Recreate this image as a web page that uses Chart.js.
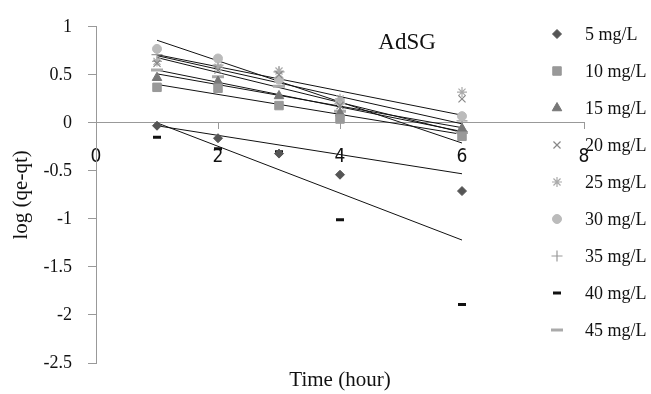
<!DOCTYPE html>
<html>
<head>
<meta charset="utf-8">
<script src="https://cdn.jsdelivr.net/npm/chart.js@4/dist/chart.umd.min.js"></script>
<style>
  html, body { margin: 0; padding: 0; background: #fff; }
  canvas { display: block; }
</style>
</head>
<body>
<canvas id="myChart" width="651" height="394"></canvas>
<script>
// time points (hour)
const times = [1, 2, 3, 4, 6];
const seriesNames = ['5 mg/L', '10 mg/L', '15 mg/L', '20 mg/L', '25 mg/L', '30 mg/L', '35 mg/L', '40 mg/L', '45 mg/L'];

// log (qe-qt)
const c5  = [-0.03, -0.16, -0.32, -0.54, -0.71];
const c10 = [0.37, 0.36, 0.18, 0.04, -0.14];
const c15 = [0.47, 0.43, 0.28, 0.10, -0.06];
const c20 = [0.62, 0.55, 0.50, 0.18, 0.25];
const c25 = [0.64, 0.58, 0.54, 0.25, 0.32];
const c30 = [0.77, 0.67, 0.45, 0.22, 0.07];
const c35 = [0.71, 0.60, 0.53, 0.20, 0.02];
const c40 = [-0.15, -0.27, -0.30, -1.01, -1.89];
const c45 = [0.55, 0.48, 0.38, 0.12, -0.10];
const allValues = [c5, c10, c15, c20, c25, c30, c35, c40, c45];

// linear trend lines, value at t=1 and t=6
const trendTimes = [1, 6];
const trendStart = [-0.03, 0.40, 0.51, 0.70, 0.71, 0.86, 0.68, 0.00, 0.55];
const trendEnd   = [-0.53, -0.12, -0.05, -0.01, 0.08, -0.21, -0.10, -1.22, -0.09];

const yTicks = [-2.5, 1, 0.5];   // min, max, step
const xTicks = [0, 8, 2];

// marker looks
const styles = [
    { pointStyle: 'rectRot', radius: 4.5, color: '#555', width: 1 },
    { pointStyle: 'rect', radius: 6, color: '#999', width: 1 },
    { pointStyle: 'triangle', radius: 5.5, color: '#777', width: 1 },
    { pointStyle: 'crossRot', radius: 5, color: '#888', width: 1.2 },
    { pointStyle: 'star', radius: 5, color: '#aaa', width: 1.2 },
    { pointStyle: 'circle', radius: 4.5, color: '#bbb', width: 1 },
    { pointStyle: 'cross', radius: 5.5, color: '#999', width: 1.2 },
    { pointStyle: 'line', radius: 4, color: '#111', width: 3 },
    { pointStyle: 'line', radius: 6, color: '#aaa', width: 3 },
];

const serif = "'Liberation Serif', 'Times New Roman', serif";

const datasets = [];
allValues.forEach((vals, i) => {
    const s = styles[i];
    datasets.push({
        type: 'scatter',
        label: seriesNames[i],
        data: times.map((t, j) => ({ x: t, y: vals[j] })),
        pointStyle: s.pointStyle,
        pointRadius: s.radius,
        pointBackgroundColor: s.color,
        pointBorderColor: s.color,
        pointBorderWidth: s.width,
        showLine: false,
    });
});
trendStart.forEach((v, i) => {
    datasets.push({
        type: 'line',
        label: 'trend ' + seriesNames[i],
        data: [{ x: trendTimes[0], y: v }, { x: trendTimes[1], y: trendEnd[i] }],
        borderColor: '#111',
        borderWidth: 1,
        pointRadius: 0,
        fill: false,
    });
});

// legend on the right, drawn over the plot like the original
const sideLegend = {
    id: 'sideLegend',
    afterDraw(chart) {
        const ctx = chart.ctx;
        ctx.save();
        ctx.font = '18px ' + serif;
        ctx.textBaseline = 'middle';
        ctx.textAlign = 'left';
        seriesNames.forEach((name, i) => {
            const s = styles[i];
            const y = 34 + i * 37;
            ctx.fillStyle = s.color;
            ctx.strokeStyle = s.color;
            ctx.lineWidth = s.width;
            Chart.helpers.drawPoint(ctx, { pointStyle: s.pointStyle, radius: s.radius, borderWidth: s.width, rotation: 0 }, 557, y);
            ctx.fillStyle = '#111';
            ctx.fillText(name, 585, y + 1);
        });
        ctx.restore();
    }
};

const chartLabel = {
    id: 'chartLabel',
    afterDraw(chart) {
        const ctx = chart.ctx;
        ctx.save();
        ctx.font = '23px ' + serif;
        ctx.fillStyle = '#111';
        ctx.textAlign = 'center';
        ctx.textBaseline = 'middle';
        ctx.fillText('AdSG', chart.scales.x.getPixelForValue(5.1), chart.scales.y.getPixelForValue(0.83));
        ctx.restore();
    }
};

const ctx = document.getElementById('myChart').getContext('2d');
new Chart(ctx, {
    type: 'scatter',
    data: { datasets },
    options: {
        responsive: false,
        animation: false,
        layout: { padding: { top: 19, right: 67, left: 0, bottom: 0 } },
        plugins: { legend: { display: false }, tooltip: { enabled: false } },
        scales: {
            x: {
                type: 'linear',
                position: { y: 0 },
                min: xTicks[0], max: xTicks[1],
                ticks: {
                    stepSize: xTicks[2], padding: 17, maxRotation: 0, color: '#111',
                    font: { family: "'DejaVu Sans Condensed', 'DejaVu Sans', sans-serif", size: 19 },
                },
                grid: { display: true, drawOnChartArea: false, tickLength: 6, color: '#999' },
                border: { color: '#999' },
            },
            x2: {
                type: 'linear',
                position: 'bottom',
                min: xTicks[0], max: xTicks[1],
                ticks: { display: false },
                grid: { display: false },
                border: { display: false },
                title: { display: true, text: 'Time (hour)', color: '#111', padding: { top: 0, bottom: 1 }, font: { family: serif, size: 21 } },
                afterFit(scale) { scale.height = 31; },
            },
            y: {
                min: yTicks[0], max: yTicks[1],
                ticks: {
                    stepSize: yTicks[2], padding: 16, color: '#111', font: { family: serif, size: 18 },
                    callback: (v) => String(v),
                },
                grid: { display: true, drawOnChartArea: false, tickLength: 8, color: '#999' },
                border: { color: '#999' },
                title: { display: true, text: 'log (qe-qt)', color: '#111', padding: { top: 9, bottom: 0 }, font: { family: serif, size: 21 } },
                afterFit(scale) { scale.width = 96; },
            },
        },
    },
    plugins: [sideLegend, chartLabel],
});
</script>
</body>
</html>
